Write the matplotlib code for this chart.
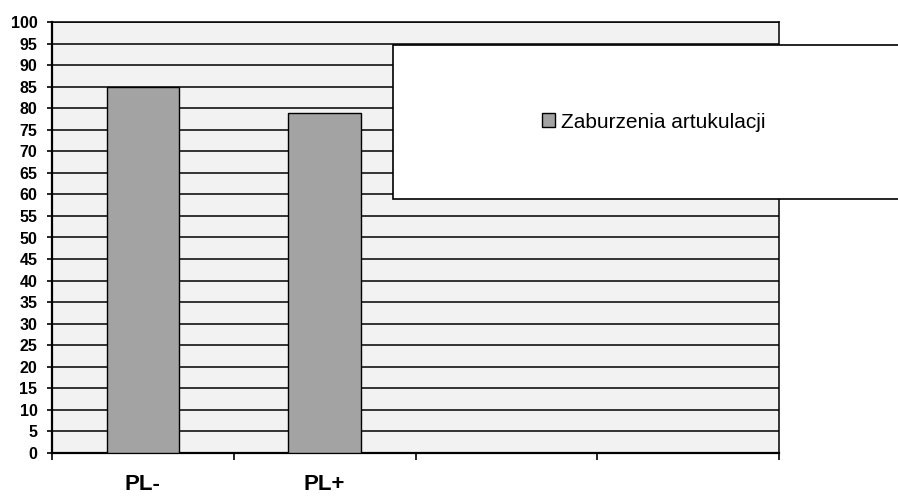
import numpy as np
import matplotlib
matplotlib.use("Agg")
import matplotlib.pyplot as plt
from matplotlib.patches import Rectangle

# data
categories = ["PL-", "PL+", "", ""]
values = [85, 79]
series_name = "Zaburzenia artukulacji"
y_ticks = list(range(0, 101, 5))

plt.rcParams['font.family'] = ['Liberation Sans', 'DejaVu Sans']

fig = plt.figure(figsize=(8.98, 5.0), dpi=100)
ax = fig.add_axes([52 / 898, 1 - 453 / 500, (779 - 52) / 898, (453 - 22) / 500])
ax.set_facecolor("#f2f2f2")

x = np.arange(len(categories))
ax.bar(x[:len(values)], values, width=0.4, color="#a3a3a3", edgecolor="black",
       linewidth=1.0, zorder=3, label=series_name)

ax.set_xlim(-0.5, len(categories) - 0.5)
ax.set_ylim(0, 100)
ax.set_yticks(y_ticks)
ax.yaxis.grid(True, color="black", linewidth=1.1, zorder=1)
ax.set_axisbelow(True)
for lbl in ax.get_yticklabels():
    lbl.set_fontweight("bold")
ax.tick_params(axis="y", direction="out", length=3.5, width=1.2, labelsize=11.5, pad=7)

# boundary ticks between categories, labels at the centers
ax.set_xticks(np.arange(len(categories) + 1) - 0.5)
ax.set_xticklabels([])
ax.tick_params(axis="x", which="major", direction="out", length=5, width=1.2)
ax.set_xticks(x, minor=True)
ax.set_xticklabels(categories, minor=True, fontsize=16, fontweight="bold")
ax.tick_params(axis="x", which="minor", length=0, pad=15)

for s in ["left", "bottom"]:
    ax.spines[s].set_linewidth(1.6)
for s in ["top", "right"]:
    ax.spines[s].set_linewidth(1.1)

# legend box
fig.add_artist(Rectangle((393 / 898, 1 - 199 / 500), 0.7, 154 / 500,
                         transform=fig.transFigure, facecolor="white",
                         edgecolor="black", linewidth=1.2, zorder=4))
h, l = ax.get_legend_handles_labels()
fig.legend(h, l, loc="center", bbox_to_anchor=(654 / 898, 1 - 122 / 500),
           frameon=False, fontsize=15, handlelength=0.62, handleheight=0.62,
           handletextpad=0.3)

fig.savefig("out.png", dpi=100)
